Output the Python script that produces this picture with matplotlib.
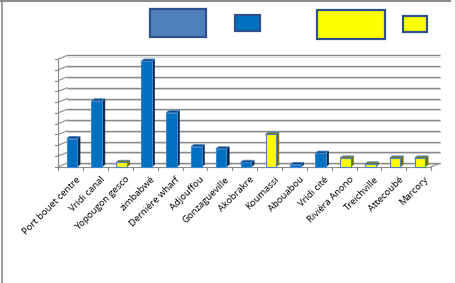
import matplotlib.pyplot as plt
from matplotlib.patches import Polygon, Rectangle
from matplotlib.lines import Line2D

# data
sites = ['Port bouet centre', 'Vridi canal', 'Yopougon gesco', 'zimbabwé', 'Dernière wharf',
         'Adjouffou', 'Gonzagueville', 'Akobrakre', 'Koumassi', 'Abouabou', 'Vridi cité',
         'Riviéra Anono', 'Treichville', 'Attecoubé', 'Marcory']
values = [2.6, 6.1, 0.4, 9.8, 5.0, 1.85, 1.65, 0.4, 3.0, 0.2, 1.25, 0.8, 0.25, 0.8, 0.8]
groups = ['b', 'b', 'y', 'b', 'b', 'b', 'b', 'b', 'y', 'b', 'b', 'y', 'y', 'y', 'y']

FACE = {'b': '#0070C0', 'y': '#FFFF00'}
SIDE = {'b': '#06264A', 'y': '#6E6E00'}
TOP = {'b': '#123E6E', 'y': '#7A7A10'}
EDGE = {'b': '#3F86D0', 'y': '#4F81BD'}

W, H = 455, 283
fig = plt.figure(figsize=(W / 100, H / 100), dpi=100)
fig.patch.set_facecolor('white')

# plot area in pixels (front plane)
x0p, x1p, y0p, ytop = 58.3, 431.2, 166.7, 54.7
ax = fig.add_axes([x0p / W, 1 - y0p / H, (x1p - x0p) / W, (y0p - ytop) / H])
n = len(sites)
ax.set_xlim(0, n)
ax.set_ylim(0, 10.4)
ax.axis('off')

DX, DY = 0.36, 0.33     # back wall offset
BDX, BDY = 0.11, 0.2    # bar depth

# back wall gridlines
for k in range(11):
    ax.plot([DX, n + DX], [k + DY, k + DY], color='#8a8a8a', lw=1.0,
            solid_capstyle='butt', clip_on=False, zorder=1)
    ax.plot([DX, n + DX], [k + DY - 0.1, k + DY - 0.1], color='#d8d8d8', lw=0.6,
            clip_on=False, zorder=0.9)
    ax.plot([0, DX], [k, k + DY], color='#8a8a8a', lw=0.8, clip_on=False, zorder=1)
    ax.plot([-0.12, 0], [k, k], color='#8a8a8a', lw=0.8, clip_on=False, zorder=1)

# front axes
ax.plot([0, 0], [0, 10], color='#8a8a8a', lw=0.8, clip_on=False, zorder=1)
ax.plot([0, n], [0, 0], color='#8a8a8a', lw=0.8, clip_on=False, zorder=1)
ax.plot([n, n + DX], [0, DY], color='#8a8a8a', lw=0.8, clip_on=False, zorder=1)
for i in range(n + 1):
    ax.plot([i, i], [0, -0.35], color='#8a8a8a', lw=0.8, clip_on=False, zorder=1)

# bars
xc = [i + 0.55 for i in range(n)]
bw = 0.43
faces = [FACE[g] for g in groups]
edges = [EDGE[g] for g in groups]
ax.bar(xc, values, width=bw, color=faces, edgecolor=edges, linewidth=0.8,
       zorder=3, clip_on=False)
for x, v, g in zip(xc, values, groups):
    l, r = x - bw / 2, x + bw / 2
    ax.add_patch(Polygon([(r, 0), (r + BDX, BDY), (r + BDX, v + BDY), (r, v)],
                         closed=True, facecolor=SIDE[g], edgecolor=SIDE[g],
                         lw=0.4, zorder=2.9, clip_on=False))
    ax.add_patch(Polygon([(l, v), (l + BDX, v + BDY), (r + BDX, v + BDY), (r, v)],
                         closed=True, facecolor=TOP[g], edgecolor=EDGE[g],
                         lw=0.6, zorder=2.9, clip_on=False))

# category labels
for x, s in zip(xc, sites):
    ax.text(x + 0.14, -0.75, s, rotation=45, ha='right', va='top',
            rotation_mode='anchor', fontsize=6.8, family='Open Sans', color='#000000')

# legend boxes (no text)
def box(x0, y0, x1, y1, fc):
    fig.patches.append(Rectangle((x0 / W, 1 - y1 / H), (x1 - x0) / W, (y1 - y0) / H,
                                 transform=fig.transFigure, facecolor=fc,
                                 edgecolor='#2F528F', lw=1.6))

box(150, 9, 206, 37, '#4F81BD')
box(235, 15, 260, 31, '#0070C0')
box(317, 10, 385, 39, '#FFFF00')
box(403, 16, 427, 32, '#FFFF00')

# outer frame (top and left only)
fig.lines.append(Line2D([0, 450 / W], [1 - 1 / H, 1 - 1 / H], transform=fig.transFigure,
                        color='#8c8c8c', lw=1.5))
fig.lines.append(Line2D([2 / W, 2 / W], [0, 1], transform=fig.transFigure,
                        color='#8c8c8c', lw=1.2))

fig.savefig('out.png', dpi=100, facecolor='white')
